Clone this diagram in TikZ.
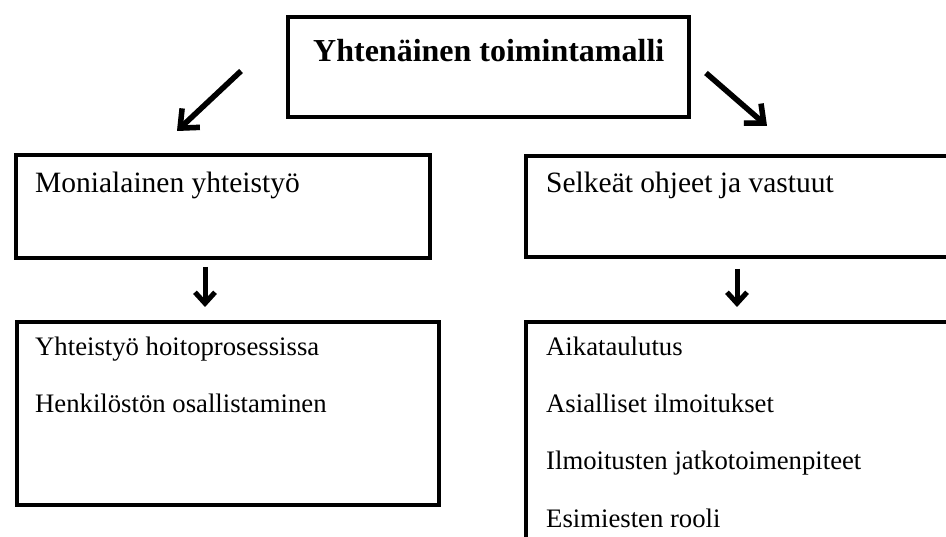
\documentclass[tikz,border=0pt]{standalone}
\usepackage{fontspec}
\setmainfont{Liberation Serif}
\usetikzlibrary{arrows.meta}
\begin{document}
\begin{tikzpicture}[x=1pt,y=-1pt,
  box/.style={draw=black,line width=4pt,fill=white,inner sep=0pt,anchor=north west},
  lbl/.style={anchor=base west,inner sep=0pt,font=\fontsize{29.5}{34}\selectfont},
  item/.style={anchor=base west,inner sep=0pt,font=\fontsize{26.7}{31}\selectfont},
  ttl/.style={anchor=base west,inner sep=0pt,font=\fontsize{32}{36}\selectfont\bfseries},
  diag/.style={line width=5.5pt,-{Straight Barb[length=15pt,width=26pt,line width=5.5pt]}},
  down/.style={line width=5pt,-{Straight Barb[length=11pt,width=20pt,line width=5pt]}},
  shade/.style={draw=black!25,opacity=0.5}]
\clip (0,0) rectangle (946,537);
\fill[white] (0,0) rectangle (946,537);
% boxes
\node[box,minimum width=401pt,minimum height=100pt] (top) at (286,15) {};
\node[box,minimum width=414pt,minimum height=103pt] (lb1) at (14,153) {};
\node[box,minimum width=460pt,minimum height=101pt] (rb1) at (524,154) {};
\node[box,minimum width=422pt,minimum height=183pt] (lb2) at (15,320) {};
\node[box,minimum width=460pt,minimum height=260pt] (rb2) at (524,320) {};
% texts
\node[ttl] (tt) at (313,62) {Yhtenäinen toimintamalli};
\node[lbl] (t1) at (35,193) {Monialainen yhteistyö};
\node[lbl] (t2) at (546,193) {Selkeät ohjeet ja vastuut};
\node[item] (t3) at (35,356) {Yhteistyö hoitoprosessissa};
\node[item] (t4) at (35,413) {Henkilöstön osallistaminen};
\node[item] (t5) at (546,356) {Aikataulutus};
\node[item] (t6) at (546,413) {Asialliset ilmoitukset};
\node[item] (t7) at (546,470) {Ilmoitusten jatkotoimenpiteet};
\node[item] (t8) at (546,527) {Esimiesten rooli};
% arrow ends
\coordinate (a1s) at (241,71);
\coordinate (a1e) at (177,131);
\coordinate (a2s) at (706,73);
\coordinate (a2e) at (767,126);
\coordinate (a3s) at (205,267);
\coordinate (a3e) at (205,307);
\coordinate (a4s) at (737,269);
\coordinate (a4e) at (737,307);
\begin{scope}[shift={(1.5,2.5)}]
\draw[diag,shade] (a1s) -- (a1e);
\draw[diag,shade] (a2s) -- (a2e);
\draw[down,shade] (a3s) -- (a3e);
\draw[down,shade] (a4s) -- (a4e);
\end{scope}
\draw[diag] (a1s) -- (a1e);
\draw[diag] (a2s) -- (a2e);
\draw[down] (a3s) -- (a3e);
\draw[down] (a4s) -- (a4e);
\end{tikzpicture}
\end{document}
